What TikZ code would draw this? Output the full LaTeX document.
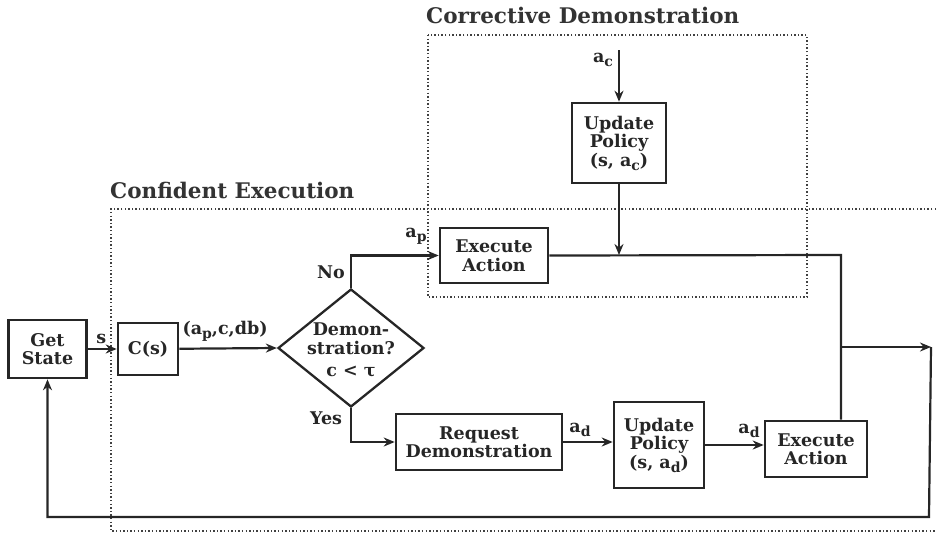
\documentclass[tikz,border=0pt]{standalone}
\usepackage{fontspec}
\setmainfont{DejaVu Serif}
\usepackage{tikz}
\usetikzlibrary{shapes.geometric, arrows.meta}
\tikzstyle{block} = [rectangle, draw=black!85, line width=2.6pt, align=center, text=black!85, inner sep=2pt, font=\bfseries\fontsize{17.5}{18.5}\selectfont]
\tikzstyle{decision} = [diamond, draw=black!85, line width=2.3pt, inner sep=0pt, minimum width=146pt, minimum height=118pt]
\tikzstyle{lbl} = [text=black!85, inner sep=0pt, font=\bfseries\fontsize{17.5}{18.5}\selectfont]
\tikzstyle{title} = [text=black!80, inner sep=0pt, anchor=west, font=\bfseries\fontsize{21.5}{23}\selectfont]
\tikzstyle{region} = [draw=black!75, line width=1.7pt, dash pattern=on 1.4pt off 2.2pt]
\tikzstyle{arrow} = [line width=2.2pt, draw=black!85, -{Stealth[length=11pt, width=9pt]}]
\tikzstyle{line} = [line width=2.2pt, draw=black!85]
\newcommand{\lowidx}[1]{\raisebox{-0.45ex}{\fontsize{14}{14}\selectfont #1}}

\begin{document}
\begin{tikzpicture}[x=1pt, y=-1pt]
            \useasboundingbox (0,0) rectangle (937,533);

            \draw[region] (428,35) rectangle (807,297);
            \draw[region] (936,209) -- (111,209) -- (111,531) -- (936,531);
            \node(corrtitle) [title] at (426,15) {Corrective Demonstration};
            \node(conftitle) [title] at (110,190) {Confident Execution};

            \node(get) [block, minimum width=78pt, minimum height=58pt] at (47.5,349) {Get\\State};
            \node(cs) [block, minimum width=60pt, minimum height=52pt] at (148,349) {C(s)};
            \node(dec) [decision] at (351,348) {};
            \node(dectext) [lbl, align=center] at (351,350) {Demon-\\stration?\\[4pt]c < τ};
            \node(exec1) [block, minimum width=108pt, minimum height=55pt] at (494,255.5) {Execute\\Action};
            \node(upc) [block, minimum width=94pt, minimum height=80pt] at (619,143) {Update\\Policy\\(s, a\lowidx{c})};
            \node(req) [block, minimum width=166pt, minimum height=56pt] at (479,442) {Request\\Demonstration};
            \node(upd) [block, minimum width=90pt, minimum height=86pt] at (659,445) {Update\\Policy\\(s, a\lowidx{d})};
            \node(exec2) [block, minimum width=102pt, minimum height=56pt] at (816,449) {Execute\\Action};

            \coordinate(acin) at (619,50);
            \coordinate(turn) at (841,255);
            \coordinate(branch) at (841,347);
            \coordinate(out) at (931,347);
            \coordinate(ret) at (929,517);

            \draw[arrow] (get) -- node[lbl, above, yshift=4pt, xshift=-1pt]{s} (cs);
            \draw[arrow] (cs) -- node[lbl, above, yshift=6pt, xshift=-3pt]{(a\lowidx{p},c,db)} (dec.west);
            \draw[arrow] (dec.north) |- (exec1.west);
            \draw[arrow] (dec.south) |- (req.west);
            \draw[arrow] (req.east) -- (req.east -| upd.west);
            \draw[arrow] (upd.east) -- (upd.east -| exec2.west);
            \draw[arrow] (acin) -- (upc.north);
            \draw[arrow] (upc.south) -- (upc.south |- turn);
            \draw[line] (exec1.east) -- (turn) -- (turn |- exec2.north);
            \draw[arrow] (branch) -- (out);
            \draw[arrow] (out) -- (ret) -| (get.south);

            \node(no) [lbl] at (331,272) {No};
            \node(yes) [lbl] at (326,418) {Yes};
            \node(ap) [lbl] at (416,236) {a\lowidx{p}};
            \node(ac) [lbl] at (603,60) {a\lowidx{c}};
            \node(ad1) [lbl] at (580,430) {a\lowidx{d}};
            \node(ad2) [lbl] at (749,431) {a\lowidx{d}};
        \end{tikzpicture}
\end{document}
